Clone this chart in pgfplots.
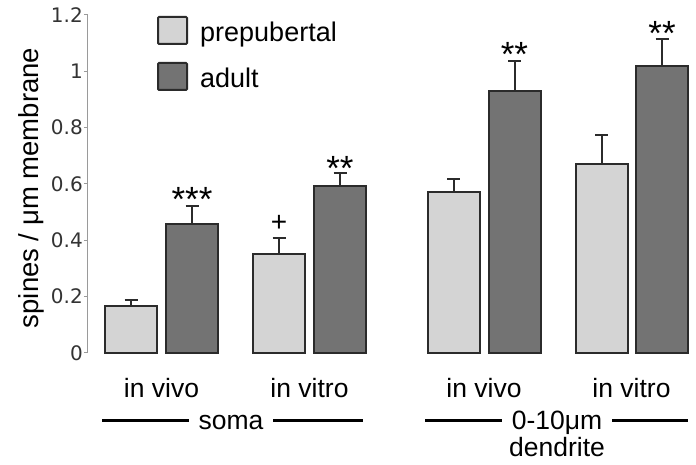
\documentclass[border=0pt]{standalone}
\usepackage{pgfplots}
\pgfplotsset{compat=1.18}
\usepackage{fontspec}
\setmainfont{Liberation Sans}
\newfontfamily\tickfont{DejaVu Sans}
\definecolor{light}{HTML}{D4D4D4}
\definecolor{dark}{HTML}{737373}
\definecolor{edge}{HTML}{2B2B2B}
\definecolor{axisgray}{HTML}{9A9A9A}
\begin{document}
\begin{tikzpicture}[x=1pt,y=1pt]
\useasboundingbox (0,0) rectangle (696,465);
\begin{axis}[
  at={(88pt,112pt)}, anchor=south west,
  scale only axis, width=608pt, height=338pt,
  xmin=88, xmax=696, ymin=0, ymax=1.2,
  clip=false,
  axis y line*=left, axis x line*=bottom,
  x axis line style={draw=none},
  xtick={161.5,309.5,484,631.5},
  xticklabels={in vivo,in vitro,in vivo,in vitro},
  x tick style={draw=none},
  x tick label style={font=\fontsize{26.5}{30}\selectfont, inner sep=0pt, anchor=base, yshift=-41pt},
  ytick={0,0.2,0.4,0.6,0.8,1,1.2},
  y tick label style={font=\fontsize{20}{24}\selectfont\tickfont, text=black!80, inner sep=1pt},
  /pgf/number format/assume math mode=true,
  y axis line style={axisgray, line width=1pt},
  y tick style={axisgray, line width=1pt},
  tick align=outside, major tick length=4pt,
  ylabel={spines / μm membrane},
  every axis y label/.style={at={(rel axis cs:0,0.5)}, xshift=-57pt, yshift=-4pt, rotate=90, anchor=center, font=\fontsize{27.5}{32}\selectfont},
]
\addplot[ybar, bar width=52, bar shift=0pt, fill=light, draw=edge, line width=2pt,
  error bars/.cd, y dir=plus, y explicit,
  error bar style={line width=2pt, edge},
  error mark options={rotate=90, mark size=6.5pt, line width=2pt, edge}]
  coordinates {(131,0.167) +- (0,0.021) (279,0.350) +- (0,0.057) (453.5,0.570) +- (0,0.049) (601.5,0.670) +- (0,0.104)};
\addplot[ybar, bar width=52, bar shift=0pt, fill=dark, draw=edge, line width=2pt,
  error bars/.cd, y dir=plus, y explicit,
  error bar style={line width=2pt, edge},
  error mark options={rotate=90, mark size=6.5pt, line width=2pt, edge}]
  coordinates {(192,0.459) +- (0,0.063) (340,0.594) +- (0,0.046) (514.5,0.931) +- (0,0.105) (662,1.020) +- (0,0.093)};
\node[anchor=base, font=\fontsize{35}{40}\selectfont] at (axis cs:192,0.5006) {***};
\node[anchor=base, font=\fontsize{35}{40}\selectfont] at (axis cs:340,0.614) {**};
\node[anchor=base, font=\fontsize{35}{40}\selectfont] at (axis cs:514.5,1.016) {**};
\node[anchor=base, font=\fontsize{35}{40}\selectfont] at (axis cs:662,1.093) {**};
\node[anchor=base, font=\fontsize{28}{32}\selectfont] at (axis cs:279,0.433) {+};
\end{axis}
% legend
\draw[fill=light, draw=edge, line width=2pt, rounded corners=1pt] (158,448) rectangle (187,421);
\draw[fill=dark, draw=edge, line width=2pt, rounded corners=1pt] (158,402) rectangle (187,375);
\node[anchor=base west, inner sep=0pt, font=\fontsize{27}{30}\selectfont] at (200,423) {prepubertal};
\node[anchor=base west, inner sep=0pt, font=\fontsize{27}{30}\selectfont] at (200,377) {adult};
% group lines
\draw[line width=3pt] (102,44) -- (363,44);
\node[anchor=base, fill=white, inner xsep=10pt, inner ysep=1pt, font=\fontsize{26.5}{30}\selectfont] at (231,35) {soma};
\draw[line width=3pt] (425,44) -- (688,44);
\node[anchor=base, fill=white, inner xsep=10pt, inner ysep=1pt, font=\fontsize{26.5}{30}\selectfont] at (557,35) {0-10μm};
\node[anchor=base, inner sep=0pt, font=\fontsize{26.5}{30}\selectfont] at (557,8) {dendrite};
\end{tikzpicture}
\end{document}
